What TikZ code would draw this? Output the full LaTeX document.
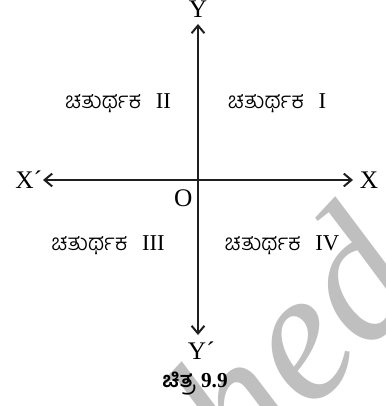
\documentclass[tikz,border=0pt]{standalone}
\usepackage{fontspec}
\setmainfont{Liberation Serif}
\newfontfamily\kannada[Script=Kannada]{Hind Mysuru Light}
\newfontfamily\kannadabold[Script=Kannada]{Hind Mysuru}
\usepackage{tikz}
\usetikzlibrary{arrows.meta}
\usetikzlibrary{positioning}

\begin{document}
\begin{tikzpicture}[
    x=0.75pt, y=0.75pt,
    % Axis styles
    axis/.style={line width=1.5pt, draw=black!88,
        {Straight Barb[angle=80:7.5pt]}-{Straight Barb[angle=80:7.5pt]}},
    % Text styles
    axlabel/.style={inner sep=0pt, font=\fontsize{19}{19}\selectfont},
    quadlabel/.style={inner sep=0pt, font=\fontsize{17}{17}\selectfont},
    caption/.style={inner sep=0pt, font=\fontsize{16}{16}\selectfont\bfseries},
    stamp/.style={inner sep=0pt, text=black!25, rotate=47,
        font=\fontsize{140}{140}\selectfont\itshape}
]

    % =========================================================================
    % 1. FRAME AND BACKGROUND STAMP
    % =========================================================================
    \useasboundingbox (-198,-226) rectangle (187,180);
    \begin{scope}
        \clip (-198,-226) rectangle (187,180);
        \node[stamp] (stamp) at (94,-160) {hed};
    \end{scope}

    % =========================================================================
    % 2. AXES
    % =========================================================================
    \coordinate (O) at (0,0);
    \coordinate (xtip) at (155,0);
    \coordinate (xntip) at (-155,0);
    \coordinate (ytip) at (0,156);
    \coordinate (yntip) at (0,-155);

    \draw[axis] (xntip) -- (xtip);
    \draw[axis] (yntip) -- (ytip);

    % --- Axis names ---
    \node[axlabel, right=5pt of xtip] (xlab) {X};
    \node[axlabel, left=0.5pt of xntip] (xnlab) {X´};
    \node[axlabel, above=5pt of ytip] (ylab) {Y};
    \node[axlabel, below=5pt of yntip, xshift=2.5pt] (ynlab) {Y´};
    \node[axlabel, below left=7pt and 4pt of O] (olab) {O};

    % =========================================================================
    % 3. QUADRANT NAMES
    % =========================================================================
    \node[quadlabel] (q1) at (79,77) {{\kannada ಚತುರ್ಥಕ}\hspace{11pt}I};
    \node[quadlabel] (q2) at (-80,77) {{\kannada ಚತುರ್ಥಕ}\hspace{11pt}II};
    \node[quadlabel] (q3) at (-90,-65) {{\kannada ಚತುರ್ಥಕ}\hspace{11pt}III};
    \node[quadlabel] (q4) at (84,-65) {{\kannada ಚತುರ್ಥಕ}\hspace{11pt}IV};

    % =========================================================================
    % 4. CAPTION
    % =========================================================================
    \node[caption] (cap) at (-3,-204) {{\kannadabold\bfseries ಚಿತ್ರ} 9.9};

\end{tikzpicture}
\end{document}
